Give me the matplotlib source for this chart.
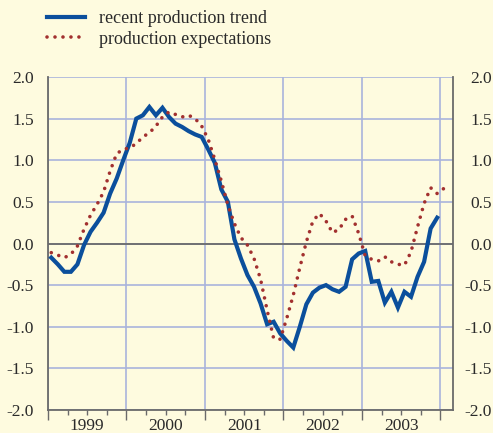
import matplotlib
matplotlib.use("Agg")
import matplotlib.pyplot as plt
import numpy as np

# ---- data (monthly, starting January 1999) ----
start_year = 1999
trend = [-0.17, -0.25, -0.34, -0.34, -0.25, -0.02, 0.14, 0.25, 0.37, 0.60, 0.78, 1.00,
         1.21, 1.50, 1.54, 1.64, 1.54, 1.63, 1.52, 1.44, 1.40, 1.35, 1.31, 1.28,
         1.13, 0.97, 0.65, 0.50, 0.05, -0.18, -0.38, -0.52, -0.72, -0.97, -0.94, -1.08,
         -1.17, -1.25, -1.00, -0.73, -0.59, -0.53, -0.50, -0.55, -0.58, -0.52, -0.19, -0.12,
         -0.09, -0.46, -0.45, -0.71, -0.58, -0.77, -0.58, -0.64, -0.40, -0.22, 0.18, 0.31]
expect = [-0.11, -0.14, -0.17, -0.13, -0.03, 0.17, 0.34, 0.47, 0.62, 0.87, 1.08, 1.13,
          1.15, 1.20, 1.28, 1.33, 1.41, 1.52, 1.58, 1.55, 1.52, 1.54, 1.50, 1.41,
          1.25, 1.01, 0.75, 0.46, 0.24, 0.07, -0.02, -0.18, -0.43, -0.80, -1.14, -1.15,
          -0.90, -0.62, -0.29, 0.02, 0.27, 0.36, 0.27, 0.13, 0.17, 0.29, 0.33, 0.12,
          -0.15, -0.19, -0.21, -0.16, -0.22, -0.25, -0.26, -0.10, 0.20, 0.48, 0.67, 0.60, 0.66]
years = [1999, 2000, 2001, 2002, 2003]
yticks = [-2.0, -1.5, -1.0, -0.5, 0.0, 0.5, 1.0, 1.5, 2.0]
ytick_labels = ["-2.0", "-1.5", "-1.0", "-0.5", "0.0", "0.5", "1.0", "1.5", "2.0"]
series_names = ["recent production trend", "production expectations"]

# ---- style ----
BG = "#FEFBDF"
BLUE = "#0B4F9C"
RED = "#A2302F"
GRID = "#A9B4DC"
AXC = "#6A6A6A"
TXT = "#2A2A2A"
FONT = "Liberation Serif"
FS = 12.5

W, H = 493, 433
fig = plt.figure(figsize=(W / 100, H / 100), dpi=100)
fig.patch.set_facecolor(BG)
ax = fig.add_axes([48 / W, 1 - 410 / H, (453 - 48) / W, (410 - 77) / H])
ax.set_facecolor(BG)

x_tr = start_year + (np.arange(len(trend)) + 0.5) / 12
x_ex = start_year + (np.arange(len(expect)) + 0.5) / 12

ax.set_xlim(1999.0, 2004.16)
ax.set_ylim(-2.0, 2.0)

# grid
ax.set_yticks(yticks)
ax.set_yticklabels(ytick_labels, fontfamily=FONT, fontsize=FS, color=TXT)
year_bounds = list(range(years[0], years[-1] + 2))
ax.set_xticks(year_bounds)
ax.set_xticklabels([""] * len(year_bounds))
ax.set_xticks(np.arange(years[0], years[-1] + 1.01, 0.25), minor=True)
ax.grid(True, which="major", color=GRID, linewidth=1.2)
ax.set_axisbelow(True)
ax.axhline(0, color=AXC, linewidth=1.3, zorder=1.5)

ax.tick_params(axis="y", length=0, pad=10)
ax.tick_params(axis="x", which="major", length=7, width=1.0, color=AXC, direction="out")
ax.tick_params(axis="x", which="minor", length=3.5, width=1.0, color=AXC, direction="out")

for s in ["left", "right", "bottom"]:
    ax.spines[s].set_color(AXC)
    ax.spines[s].set_linewidth(1.3)
ax.spines["top"].set_visible(False)

# year labels at mid-year
sec = ax.secondary_xaxis("bottom")
sec.set_xticks([y + 0.5 for y in years])
sec.set_xticklabels([str(y) for y in years], fontfamily=FONT, fontsize=FS, color=TXT)
sec.tick_params(length=0, pad=5.5)
sec.spines["bottom"].set_visible(False)

# right-hand labels
tw = ax.twinx()
tw.set_ylim(ax.get_ylim())
tw.set_yticks(yticks)
tw.set_yticklabels(ytick_labels, fontfamily=FONT, fontsize=FS, color=TXT, ha="right")
tw.tick_params(length=0, pad=28)
for s in tw.spines.values():
    s.set_visible(False)

# lines
l1, = ax.plot(x_tr, trend, color=BLUE, linewidth=3.0, solid_joinstyle="miter",
              label=series_names[0], zorder=3)
l2, = ax.plot(x_ex, expect, color=RED, linewidth=2.6, linestyle=(0, (0.01, 2.2)),
              dash_capstyle="round", label=series_names[1], zorder=4)

fig.legend(handles=[l1, l2], labels=series_names, loc="upper left",
           bbox_to_anchor=(47 / W, 1 - 10 / H), frameon=False, borderpad=0,
           borderaxespad=0, handlelength=2.1, handletextpad=0.8, labelspacing=0.2,
           prop={"family": FONT, "size": 13}, labelcolor=TXT)

fig.savefig("out.png", dpi=100, facecolor=BG)
